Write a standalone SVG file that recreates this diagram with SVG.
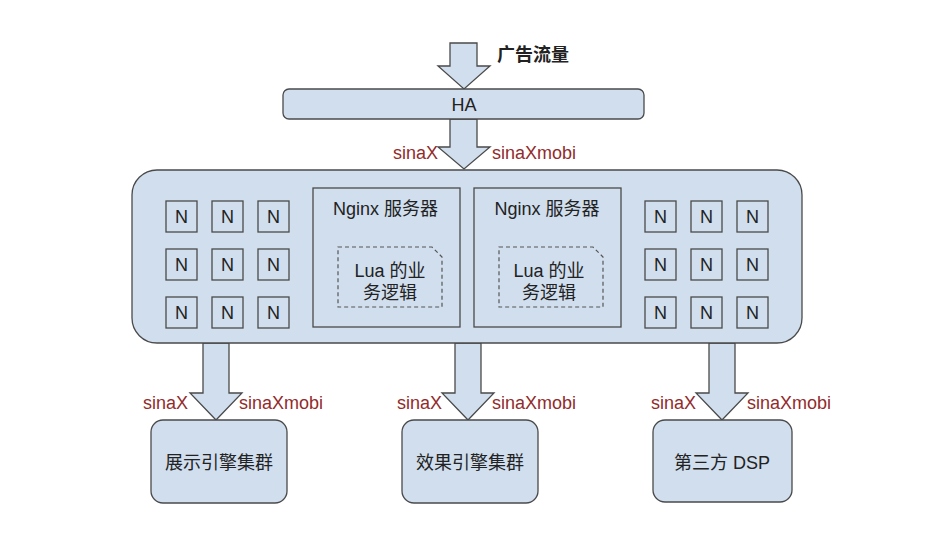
<svg xmlns="http://www.w3.org/2000/svg" width="938" height="545" viewBox="0 0 938 545">
<style>
.box{fill:#d0deee;stroke:#4a4a4a;stroke-width:1.3}
.arr{fill:#d0deee;stroke:#4a4a4a;stroke-width:1.3;stroke-linejoin:miter}
.dash{fill:none;stroke:#555;stroke-width:1.2;stroke-dasharray:4 3}
.t{font-family:"Liberation Sans","Noto Sans CJK SC",sans-serif;font-size:18px;fill:#222;text-anchor:middle}
.r{font-family:"Liberation Sans",sans-serif;font-size:18px;fill:#922b2b}
.b{font-weight:bold}
</style>
<rect width="938" height="545" fill="#ffffff"/>
<g id="connectors">
<polygon class="arr" points="450,43 477,43 477,66 490,66 464,89 438,66 450,66"/>
<polygon class="arr" points="450,119 477,119 477,147 490,147 464,169 438,147 450,147"/>
<polygon class="arr" points="203,343 229,343 229,393 242,393 216,420 190,393 203,393"/>
<polygon class="arr" points="455,343 481,343 481,393 494,393 468,420 442,393 455,393"/>
<polygon class="arr" points="709,343 735,343 735,393 748,393 722,420 696,393 709,393"/>
<text class="r" x="393" y="159">sinaX</text>
<text class="r" x="492" y="159">sinaXmobi</text>
<text class="r" x="143" y="409">sinaX</text>
<text class="r" x="239" y="409">sinaXmobi</text>
<text class="r" x="397" y="409">sinaX</text>
<text class="r" x="492" y="409">sinaXmobi</text>
<text class="r" x="651" y="409">sinaX</text>
<text class="r" x="747" y="409">sinaXmobi</text>
</g>
<g id="traffic">
<text class="t b" x="533" y="61">广告流量</text>
</g>
<g id="ha">
<rect class="box" x="283" y="89" width="361" height="30" rx="6"/>
<text class="t" x="464" y="111">HA</text>
</g>
<g id="cluster">
<rect class="box" x="132" y="170" width="670" height="173" rx="25"/>
</g>
<g id="n-left">
<rect class="box" x="166" y="201" width="31" height="31"/><text class="t" x="181.5" y="223">N</text>
<rect class="box" x="212" y="201" width="31" height="31"/><text class="t" x="227.5" y="223">N</text>
<rect class="box" x="258" y="201" width="31" height="31"/><text class="t" x="273.5" y="223">N</text>
<rect class="box" x="166" y="249" width="31" height="31"/><text class="t" x="181.5" y="271">N</text>
<rect class="box" x="212" y="249" width="31" height="31"/><text class="t" x="227.5" y="271">N</text>
<rect class="box" x="258" y="249" width="31" height="31"/><text class="t" x="273.5" y="271">N</text>
<rect class="box" x="166" y="297" width="31" height="31"/><text class="t" x="181.5" y="319">N</text>
<rect class="box" x="212" y="297" width="31" height="31"/><text class="t" x="227.5" y="319">N</text>
<rect class="box" x="258" y="297" width="31" height="31"/><text class="t" x="273.5" y="319">N</text>
</g>
<g id="n-right">
<rect class="box" x="645" y="201" width="31" height="31"/><text class="t" x="660.5" y="223">N</text>
<rect class="box" x="691" y="201" width="31" height="31"/><text class="t" x="706.5" y="223">N</text>
<rect class="box" x="737" y="201" width="31" height="31"/><text class="t" x="752.5" y="223">N</text>
<rect class="box" x="645" y="249" width="31" height="31"/><text class="t" x="660.5" y="271">N</text>
<rect class="box" x="691" y="249" width="31" height="31"/><text class="t" x="706.5" y="271">N</text>
<rect class="box" x="737" y="249" width="31" height="31"/><text class="t" x="752.5" y="271">N</text>
<rect class="box" x="645" y="297" width="31" height="31"/><text class="t" x="660.5" y="319">N</text>
<rect class="box" x="691" y="297" width="31" height="31"/><text class="t" x="706.5" y="319">N</text>
<rect class="box" x="737" y="297" width="31" height="31"/><text class="t" x="752.5" y="319">N</text>
</g>
<g id="nginx-1">
<rect class="box" x="313" y="188" width="147" height="139"/>
<text class="t" x="385.5" y="215">Nginx 服务器</text>
<path class="dash" d="M338,247 H432 L442,257 V307 H338 Z"/>
<text class="t" x="390" y="277">Lua 的业</text>
<text class="t" x="390" y="299">务逻辑</text>
</g>
<g id="nginx-2">
<rect class="box" x="474" y="188" width="147" height="139"/>
<text class="t" x="547" y="215">Nginx 服务器</text>
<path class="dash" d="M499,247 H593 L603,257 V307 H499 Z"/>
<text class="t" x="549" y="277">Lua 的业</text>
<text class="t" x="549" y="299">务逻辑</text>
</g>
<g id="display-engine">
<rect class="box" x="151" y="420" width="136" height="83" rx="12"/>
<text class="t" x="219" y="469">展示引擎集群</text>
</g>
<g id="effect-engine">
<rect class="box" x="402" y="420" width="136" height="83" rx="12"/>
<text class="t" x="470" y="469">效果引擎集群</text>
</g>
<g id="dsp">
<rect class="box" x="653" y="420" width="139" height="82" rx="12"/>
<text class="t" x="722" y="469">第三方 DSP</text>
</g>
</svg>
